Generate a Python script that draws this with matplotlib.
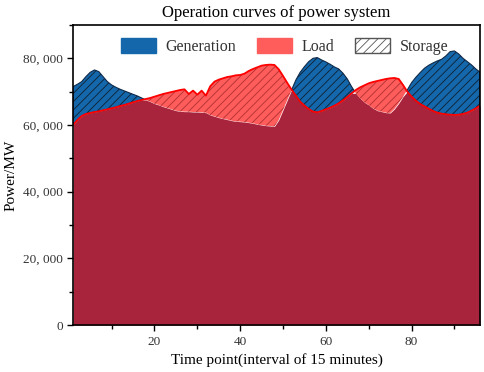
import numpy as np
import matplotlib
matplotlib.use("Agg")
import matplotlib.pyplot as plt
from matplotlib.patches import Patch
from matplotlib.ticker import FuncFormatter, MultipleLocator

time_points = list(range(1, 97))
generation = [
    71500, 72200, 73000, 74500, 75800, 76500, 76000, 74500, 73000, 72000,
    71300, 70700, 70200, 69700, 69200, 68700, 68100, 67500, 67000, 66400,
    66000, 65500, 65100, 64700, 64300, 64100, 64000, 64000, 63900, 63900,
    63800, 63700, 63000, 62600, 62200, 61900, 61600, 61300, 61100, 61000,
    60900, 60700, 60500, 60200, 60000, 59800, 59700, 59600, 61500, 64500,
    67500, 70500, 73500, 75800, 77500, 79000, 80000, 80200, 79500, 78900,
    78200, 77400, 76800, 75500, 73800, 71500, 69500, 68000, 66800, 66000,
    65000, 64300, 64000, 63700, 63600, 64800, 66500, 68500, 70500, 72700,
    74300, 75700, 77000, 77900, 78600, 79200, 79700, 80700, 82000, 82200,
    81300, 80000, 79000, 78000, 76800, 75800,
]
load = [
    60000, 61500, 62700, 63300, 63600, 63900, 64100, 64400, 64700, 65000,
    65300, 65700, 66000, 66400, 66800, 67200, 67500, 67800, 68100, 68500,
    68900, 69300, 69600, 69900, 70200, 70500, 70700, 69300, 70300, 69100,
    70300, 68800, 71600, 73000, 73600, 74000, 74400, 74600, 74900, 75000,
    75400, 76200, 76800, 77300, 77800, 78000, 78100, 78000, 76700, 74700,
    72600, 70600, 68800, 67000, 65800, 64800, 64000, 63800, 64200, 64700,
    65200, 65800, 66500, 67400, 68400, 69500, 70500, 71300, 71900, 72500,
    72900, 73200, 73500, 73800, 74000, 74100, 73800, 72000, 70000, 68500,
    67300, 66300, 65600, 64900, 64200, 63700, 63400, 63200, 63100, 63000,
    63100, 63300, 63700, 64300, 65000, 65800,
]
legend_labels = ["Generation", "Load", "Storage"]

x = np.array(time_points)
g = np.array(generation)
l = np.array(load)
m = np.minimum(g, l)

blue = "#1467ab"
light_red = "#ff5c5c"
dark_red = "#a8243d"

plt.rcParams["hatch.linewidth"] = 0.6

fig = plt.figure(figsize=(4.84, 3.72), dpi=100)
ax = fig.add_axes([0.151, 0.126, 0.841, 0.807])

ax.fill_between(x, 0, m, color=dark_red, linewidth=0, interpolate=True)
ax.fill_between(x, l, g, where=g >= l, interpolate=True, facecolor=blue,
                edgecolor="#102030", hatch="////", linewidth=0)
ax.fill_between(x, g, l, where=l >= g, interpolate=True, facecolor=light_red,
                edgecolor="#b03030", hatch="////", linewidth=0)
ax.fill_between(x, g, l, where=g >= l, interpolate=True, facecolor="none",
                edgecolor="#102a4a", linewidth=0.8)
ax.plot(x, l, color="#ff0000", linewidth=1.3)

ax.set_xlim(1, 96)
ax.set_ylim(0, 90000)
ax.xaxis.set_major_locator(MultipleLocator(20))
ax.xaxis.set_minor_locator(MultipleLocator(10))
ax.yaxis.set_major_locator(MultipleLocator(20000))
ax.yaxis.set_minor_locator(MultipleLocator(10000))
ax.yaxis.set_major_formatter(FuncFormatter(lambda v, p: "{:,}".format(int(v)).replace(",", ", ")))

serif = "Liberation Serif"
for lab in ax.get_xticklabels() + ax.get_yticklabels():
    lab.set_fontfamily(serif)
    lab.set_fontsize(9.5)
    lab.set_color("#333333")
ax.tick_params(which="both", direction="out", length=4, width=1)
ax.tick_params(which="minor", length=3)
for s in ax.spines.values():
    s.set_linewidth(1.2)

ax.set_title("Operation curves of power system", fontfamily=serif, fontsize=12, pad=6)
ax.set_xlabel("Time point(interval of 15 minutes)", fontfamily=serif, fontsize=11)
ax.set_ylabel("Power/MW", fontfamily=serif, fontsize=11)

handles = [
    Patch(facecolor=blue, edgecolor=blue, label=legend_labels[0]),
    Patch(facecolor=light_red, edgecolor=light_red, label=legend_labels[1]),
    Patch(facecolor="white", edgecolor="#555555", hatch="////", label=legend_labels[2]),
]
ax.legend(handles=handles, ncol=3, loc="upper center", bbox_to_anchor=(0.52, 1.005),
          frameon=False, prop={"family": serif, "size": 11.5},
          handlelength=2.2, handleheight=1.1, columnspacing=1.3, handletextpad=0.6,
          labelcolor="#333333")

fig.savefig("out.png", dpi=100)
